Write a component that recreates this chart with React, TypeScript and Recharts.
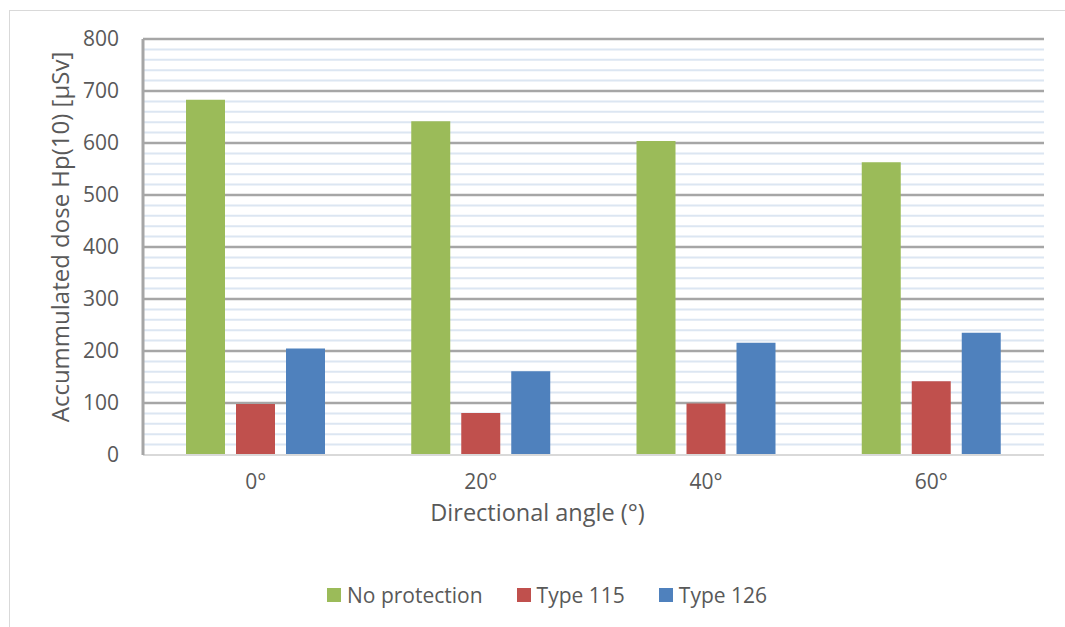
import { BarChart, Bar, XAxis, YAxis, CartesianGrid } from "recharts";

const angles = ["0°", "20°", "40°", "60°"];
const noProtection = [683, 642, 604, 563];
const type115 = [98, 81, 99, 142];
const type126 = [205, 161, 216, 235];

const series = [
  { key: "noProtection", name: "No protection", color: "#9bbb59" },
  { key: "type115", name: "Type 115", color: "#c0504d" },
  { key: "type126", name: "Type 126", color: "#4f81bd" },
];

const majorTicks = [0, 100, 200, 300, 400, 500, 600, 700, 800];
// light lines every 20 between the major ones
const minorTicks = Array.from({ length: 40 }, (_, i) => i * 20).filter((v) => v % 100 !== 0);

const data = angles.map((angle, i) => ({
  angle,
  noProtection: noProtection[i],
  type115: type115[i],
  type126: type126[i],
}));

const FONT = "'Open Sans', sans-serif";
const TEXT = "#595959";

export default function App() {
  return (
    <div style={{ position: "absolute", left: 0, top: 0, width: 1065, height: 627, overflow: "hidden", background: "#fff", fontFamily: FONT }}>
      <div style={{ position: "absolute", left: 9, top: 10, width: 1056, height: 617, borderTop: "1px solid #d9d9d9", borderLeft: "1px solid #d9d9d9" }} />
      <div style={{ position: "absolute", left: 0, top: 0 }}>
        <BarChart
          width={1065}
          height={627}
          data={data}
          margin={{ top: 39, right: 21, bottom: 102, left: 83 }}
          barSize={39}
          barGap={11}
        >
          <CartesianGrid vertical={false} horizontalValues={minorTicks} stroke="#dce6f2" strokeWidth={2} />
          <CartesianGrid vertical={false} horizontalValues={majorTicks.slice(1)} stroke="#a6a6a6" strokeWidth={2.5} />
          <XAxis
            dataKey="angle"
            height={70}
            axisLine={{ stroke: "#d9d9d9", strokeWidth: 2 }}
            tickLine={false}
            tickSize={0}
            tickMargin={19}
            tick={{ fill: TEXT, fontSize: 21, fontFamily: FONT }}
            label={{ value: "Directional angle (°)", position: "insideBottom", dx: -56, offset: 4, fill: TEXT, fontSize: 23.5, fontFamily: FONT }}
          />
          <YAxis
            width={60}
            domain={[0, 800]}
            ticks={majorTicks}
            interval={0}
            axisLine={{ stroke: "#a6a6a6", strokeWidth: 3 }}
            tickLine={false}
            tickSize={0}
            tickMargin={24}
            tick={{ fill: TEXT, fontSize: 21, fontFamily: FONT }}
            label={{ value: "Accummulated dose Hp(10) [µSv]", angle: -90, position: "center", dx: -53, dy: -10, fill: TEXT, fontSize: 24, fontFamily: FONT }}
          />
          {series.map((s) => (
            <Bar key={s.key} dataKey={s.key} name={s.name} fill={s.color} isAnimationActive={false} />
          ))}
        </BarChart>
      </div>
      <div style={{ position: "absolute", left: 327, top: 581, display: "flex", alignItems: "center", gap: 34, fontSize: 21, color: TEXT }}>
        {series.map((s) => (
          <div key={s.key} style={{ display: "flex", alignItems: "center", gap: 6 }}>
            <span style={{ display: "inline-block", width: 14, height: 14, background: s.color }} />
            <span>{s.name}</span>
          </div>
        ))}
      </div>
    </div>
  );
}
